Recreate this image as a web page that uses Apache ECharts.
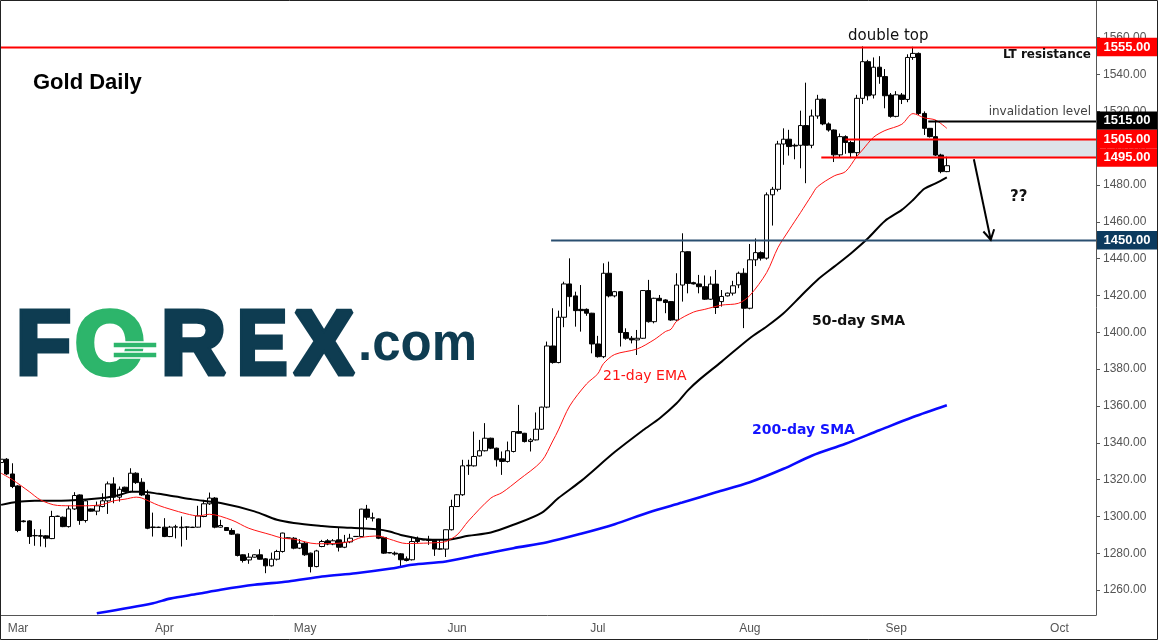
<!DOCTYPE html>
<html>
<head>
<meta charset="utf-8">
<title>Gold Daily</title>
<script src="https://cdn.jsdelivr.net/npm/echarts@6/dist/echarts.min.js"></script>
<style>
  html, body { margin: 0; padding: 0; background: #fff; }
  #chart { width: 1158px; height: 640px; }
</style>
</head>
<body>
<div id="chart"></div>
<script>
// daily bars from 26 Feb 2019 to 11 Sep 2019: [open, close, low, high]
const candles = [
  [1329.3,1331.1,1329.0,1331.5],[1331.1,1323.1,1322.5,1331.7],[1323.1,1316.3,1315.4,1328.9],[1316.6,1292.4,1291.5,1317.0],
  [1297.6,1297.2,1296.8,1298.0],[1297.6,1289.1,1285.1,1298.0],[1289.5,1289.7,1284.1,1293.1],[1289.6,1289.3,1283.7,1293.0],
  [1289.5,1288.2,1283.3,1289.8],[1288.0,1300.0,1287.7,1303.1],[1300.0,1300.2,1299.8,1300.5],[1299.6,1294.5,1294.2,1300.0],
  [1294.5,1304.1,1294.0,1305.8],[1304.1,1311.4,1303.6,1313.2],[1311.7,1297.8,1295.5,1312.0],[1297.8,1308.5,1296.7,1309.4],
  [1304.1,1302.9,1302.7,1304.3],[1302.9,1305.8,1300.7,1308.1],[1305.4,1308.5,1305.0,1312.6],[1308.5,1317.7,1301.4,1319.0],
  [1317.7,1310.5,1307.2,1321.3],[1310.5,1314.8,1308.1,1316.3],[1315.9,1313.6,1313.3,1316.2],[1313.6,1323.5,1313.0,1326.2],
  [1323.5,1318.4,1317.7,1324.0],[1318.6,1311.7,1311.2,1320.8],[1311.7,1293.6,1293.1,1314.5],[1294.0,1294.3,1289.1,1302.1],
  [1294.0,1294.2,1293.8,1294.5],[1294.2,1289.1,1288.8,1299.1],[1289.1,1294.2,1288.8,1294.9],[1294.2,1294.4,1288.1,1295.5],
  [1294.2,1293.9,1283.7,1300.0],[1294.3,1294.2,1287.3,1294.6],[1294.2,1294.0,1293.8,1294.4],[1294.2,1300.3,1294.0,1305.8],
  [1300.0,1306.9,1299.6,1309.0],[1306.9,1310.0,1306.3,1313.0],[1310.0,1294.2,1293.6,1310.5],[1294.2,1295.1,1294.0,1298.2],
  [1294.0,1292.4,1292.2,1294.2],[1292.4,1290.4,1290.0,1293.6],[1290.4,1278.8,1278.3,1290.6],[1279.2,1276.1,1275.0,1279.4],
  [1276.4,1277.9,1274.3,1280.1],[1277.9,1279.2,1277.7,1279.4],[1279.2,1276.8,1276.6,1282.2],[1277.0,1273.2,1269.2,1277.4],
  [1273.2,1276.8,1272.8,1280.4],[1276.8,1281.0,1276.1,1281.9],[1281.0,1291.0,1280.4,1291.2],[1288.2,1288.4,1288.0,1288.6],
  [1288.2,1282.8,1282.2,1288.8],[1282.8,1285.5,1282.3,1287.7],[1285.5,1279.2,1278.6,1286.4],[1280.1,1272.8,1269.6,1280.4],
  [1272.8,1281.3,1272.4,1281.9],[1283.7,1286.4,1283.3,1287.3],[1286.8,1285.0,1284.4,1287.7],[1285.0,1286.8,1284.4,1287.7],
  [1287.3,1283.3,1281.0,1294.2],[1283.3,1286.0,1282.8,1290.0],[1286.2,1288.2,1285.5,1290.6],[1289.1,1289.2,1288.9,1289.4],
  [1289.1,1304.0,1288.8,1304.2],[1304.0,1299.6,1298.2,1306.3],[1299.1,1299.3,1297.3,1302.1],[1298.7,1288.2,1287.7,1299.0],
  [1288.6,1280.1,1279.7,1289.0],[1280.4,1280.2,1280.0,1280.6],[1280.1,1279.6,1278.8,1281.0],[1279.7,1276.5,1272.9,1280.1],
  [1277.0,1276.1,1275.6,1278.3],[1276.5,1286.4,1276.1,1289.1],[1287.7,1286.4,1285.5,1289.1],[1287.3,1287.4,1287.1,1287.6],
  [1287.3,1287.0,1284.6,1289.5],[1287.3,1282.3,1278.6,1287.7],[1282.3,1282.4,1281.9,1287.3],[1282.3,1292.8,1278.0,1292.9],
  [1292.8,1305.4,1292.4,1309.1],[1305.4,1311.8,1305.2,1312.2],[1311.8,1327.5,1311.2,1330.8],[1327.5,1327.8,1322.6,1330.8],
  [1327.5,1332.6,1327.1,1346.1],[1332.9,1335.7,1332.6,1341.6],[1335.7,1342.5,1335.3,1350.7],[1342.5,1337.1,1336.6,1342.8],
  [1337.1,1330.8,1327.1,1337.4],[1331.3,1329.9,1322.6,1335.3],[1329.9,1335.7,1329.3,1340.7],[1335.3,1346.1,1334.8,1346.3],
  [1346.1,1345.2,1345.0,1360.6],[1345.2,1340.7,1340.2,1345.4],[1340.7,1341.6,1335.3,1342.5],[1341.6,1347.4,1341.3,1356.5],
  [1347.4,1359.4,1347.0,1359.6],[1359.4,1392.6,1358.8,1395.0],[1392.6,1383.6,1383.0,1413.1],[1383.6,1408.2,1383.2,1411.8],
  [1408.2,1426.3,1402.8,1427.5],[1426.3,1419.4,1414.0,1440.2],[1419.8,1411.8,1403.1,1422.1],[1412.5,1411.8,1400.4,1425.7],
  [1412.5,1410.4,1409.0,1413.0],[1410.4,1393.7,1388.6,1410.6],[1393.7,1386.8,1386.3,1398.1],[1386.8,1432.1,1386.0,1437.5],
  [1432.1,1419.8,1419.0,1438.4],[1419.8,1422.1,1419.0,1422.5],[1422.1,1399.9,1392.3,1422.4],[1399.9,1396.8,1396.0,1402.2],
  [1396.8,1395.9,1394.0,1398.0],[1395.9,1396.8,1387.7,1401.3],[1396.8,1422.7,1396.5,1423.0],[1422.7,1405.8,1405.3,1428.5],
  [1405.8,1418.5,1404.9,1418.8],[1418.5,1417.2,1417.0,1420.3],[1417.6,1416.2,1410.4,1418.0],[1416.7,1406.7,1406.3,1417.0],
  [1406.7,1425.7,1406.3,1432.1],[1425.7,1443.8,1416.7,1453.8],[1443.8,1426.6,1421.2,1444.0],[1427.0,1426.3,1426.0,1427.5],
  [1426.3,1424.8,1421.2,1431.2],[1424.8,1418.0,1417.6,1430.9],[1418.0,1426.2,1417.6,1430.4],[1426.2,1413.5,1410.0,1433.9],
  [1416.7,1419.5,1414.0,1423.0],[1419.8,1421.3,1419.5,1421.6],[1421.3,1425.3,1420.0,1428.0],[1425.8,1432.1,1424.0,1433.0],
  [1432.1,1413.1,1402.3,1434.8],[1413.1,1439.4,1412.5,1448.0],[1439.4,1443.3,1436.0,1451.0],[1443.3,1440.3,1439.0,1444.0],
  [1440.3,1474.7,1439.5,1476.0],[1474.7,1477.7,1458.0,1479.0],[1477.7,1502.3,1476.5,1504.0],[1502.3,1504.9,1491.0,1510.8],
  [1504.9,1500.9,1496.0,1510.0],[1501.6,1501.2,1494.0,1502.5],[1501.6,1512.3,1489.1,1520.4],[1512.3,1501.6,1481.0,1535.6],
  [1501.6,1517.5,1500.0,1521.0],[1517.5,1526.6,1516.0,1529.0],[1526.6,1513.2,1512.5,1527.0],[1513.2,1509.9,1509.0,1514.0],
  [1509.9,1496.4,1492.5,1510.2],[1496.4,1506.3,1495.0,1508.0],[1506.3,1503.1,1497.0,1507.0],[1503.1,1497.6,1494.6,1504.0],
  [1497.6,1527.1,1495.5,1529.0],[1527.1,1547.0,1524.0,1555.3],[1547.0,1528.5,1526.0,1548.0],[1528.9,1544.0,1527.0,1549.3],
  [1544.0,1538.9,1535.0,1550.0],[1538.9,1528.5,1521.7,1543.0],[1528.9,1517.3,1516.6,1530.0],[1517.3,1529.0,1516.8,1531.0],
  [1528.9,1526.5,1524.0,1530.0],[1526.5,1549.3,1525.0,1551.0],[1549.3,1551.5,1548.0,1555.1],[1551.5,1518.9,1518.0,1552.0],
  [1518.9,1510.8,1507.2,1520.0],[1510.8,1506.3,1505.8,1511.0],[1506.3,1496.3,1495.8,1515.3],[1496.3,1487.3,1486.4,1497.0],
  [1487.3,1490.5,1487.0,1495.4]
];

// moving averages: [bar index, price]
const ema21 = [[0,1323.5],[2,1320],[5,1313.5],[7,1309],[10,1306],[13,1305.8],[15,1305.8],[18,1306.5],[20,1308.5],[22,1309.4],
  [24,1310.5],[25,1310],[28,1306],[30,1304],[33,1301.4],[35,1300.3],[37,1301.2],[41,1298],[44,1293.6],[48,1290],[50,1288.2],
  [52,1287.7],[56,1285.2],[60,1285.5],[62,1286.4],[64,1288.6],[67,1289.4],[69,1287.7],[72,1285.3],[75,1285.5],[78,1285.9],
  [79,1286.4],[81,1290],[83,1297.5],[87,1310],[89,1313],[92,1320],[96,1330],[98,1341],[99,1347],[101,1360],[104,1372],
  [106,1377.5],[107,1383],[109,1388],[113,1391],[116,1396],[118,1400.4],[119,1401.7],[120,1406],[123,1411],[125,1412.5],
  [128,1414.8],[131,1415.8],[133,1420],[136,1432.5],[138,1446],[140,1455.7],[142,1465],[144,1474.5],[145,1479],[148,1485],
  [150,1487.3],[152,1495.5],[153,1499],[155,1506],[157,1509.6],[160,1513],[162,1518.8],[164,1516.5],[166,1515.3],[168,1510.8]];
const sma50 = [[0,1306.3],[3,1308],[6,1308.5],[12,1308.7],[18,1310],[21,1311.7],[23,1313.4],[25,1313.5],[28,1312.3],[31,1310.8],
  [34,1309.3],[39,1307.3],[45,1302.8],[49,1298.2],[52,1296.5],[57,1294.9],[60,1294.2],[64,1293.6],[67,1293],[69,1291.8],
  [71,1290],[75,1287.7],[79,1287.3],[83,1289.5],[87,1291.3],[91,1295.5],[96,1302],[99,1310],[103,1319.2],[109,1335],
  [114,1346.8],[117,1353.4],[120,1361.5],[122,1368.5],[124,1374.2],[128,1384.1],[133,1396.8],[136,1403.2],[139,1410.4],
  [142,1419.5],[145,1428.5],[148,1435.7],[151,1443],[154,1451.1],[157,1460.5],[160,1466.5],[162,1471.9],[164,1478],
  [166,1480.9],[168,1484.2]];
const sma200 = [[17,1247.4],[27,1252.9],[30,1255.4],[35,1258],[39,1260.2],[45,1262.9],[51,1264.7],[57,1267.4],[63,1269.2],
  [69,1271.6],[73,1273.8],[79,1275.6],[85,1279.2],[91,1282.8],[97,1286],[103,1290.6],[109,1295.8],[115,1302.2],[121,1307.6],
  [127,1313.1],[133,1318.6],[139,1325.9],[144,1333],[150,1339.5],[156,1346.8],[162,1354],[168,1360.4]];

const priceTicks = [1260,1280,1300,1320,1340,1360,1380,1400,1420,1440,1460,1480,1500,1520,1540,1560];
const levels = [1555, 1515, 1505, 1495, 1450];
const levelStart = [-1, 164.7, 150, 145.7, 97.7];   // bar index where each level line begins
const zone = [1495, 1505];
const monthNames = ['Jan','Feb','Mar','Apr','May','Jun','Jul','Aug','Sep','Oct','Nov','Dec'];

// bars run Sunday to Friday (no bar on Good Friday); the empty future part uses calendar days
const dates = [];
const day = new Date(Date.UTC(2019, 1, 26));
while (dates.length < candles.length) {
  const s = day.toISOString().slice(0, 10);
  if (day.getUTCDay() !== 6 && s !== '2019-04-19') dates.push(s);
  day.setUTCDate(day.getUTCDate() + 1);
}
while (dates.length < 195) {
  dates.push(day.toISOString().slice(0, 10));
  day.setUTCDate(day.getUTCDate() + 1);
}
const monthStart = i => i > 0 && dates[i].slice(5, 7) !== dates[i - 1].slice(5, 7);

const W = 1158, H = 640, RIGHT = 62;
const chart = echarts.init(document.getElementById('chart'));

chart.setOption({
  animation: false,
  backgroundColor: '#fff',
  grid: { left: -1.7, right: RIGHT, top: 0, bottom: 25, outerBoundsMode: 'none' },
  xAxis: {
    type: 'category',
    data: dates,
    boundaryGap: true,
    axisLine: { lineStyle: { color: '#555' } },
    axisTick: { interval: monthStart, alignWithLabel: true, length: 4, lineStyle: { color: '#555' } },
    axisLabel: {
      interval: monthStart,
      formatter: v => monthNames[+v.slice(5, 7) - 1],
      color: '#555', fontFamily: 'Liberation Sans', fontSize: 12, margin: 8
    },
    splitLine: { show: false }
  },
  yAxis: {
    type: 'value',
    position: 'right',
    min: 1246.5,
    max: 1580.5,
    axisLine: { show: true, lineStyle: { color: '#555' } },
    axisTick: { show: true, customValues: priceTicks, length: 4, lineStyle: { color: '#555' } },
    axisLabel: {
      customValues: priceTicks,
      formatter: v => v.toFixed(2),
      color: '#555', fontFamily: 'Liberation Sans', fontSize: 12, margin: 7
    },
    splitLine: { show: false }
  },
  series: [
    {
      type: 'candlestick',
      data: candles,
      barWidth: 5,
      itemStyle: { color: '#fff', color0: '#000', borderColor: '#000', borderColor0: '#000', borderWidth: 1 },
      z: 2
    },
    { type: 'line', data: sma200, symbol: 'none', smooth: 0.3, lineStyle: { color: '#0a0aff', width: 2.6 }, z: 3 },
    { type: 'line', data: sma50, symbol: 'none', smooth: 0.3, lineStyle: { color: '#000', width: 2 }, z: 3 },
    { type: 'line', data: ema21, symbol: 'none', smooth: 0.3, lineStyle: { color: '#ff1414', width: 1 }, z: 3 }
  ]
});

// annotations, placed through the chart's own scales
const toPx = (i, v) => chart.convertToPixel({ gridIndex: 0 }, [i, v]);
const x0 = toPx(0, 1400)[0];
const band = toPx(1, 1400)[0] - x0;
const xAt = i => x0 + i * band;
const py = v => toPx(0, v)[1];
const right = W - RIGHT;

const levelColor = ['#ff0000', '#000000', '#ff0000', '#ff0000', '#2a4f70'];
const boxColor = ['#ff0000', '#000000', '#ff0000', '#ff0000', '#0c3a5e'];

const g = [];
g.push({
  type: 'rect', z: 1, silent: true,
  shape: { x: xAt(152.1), y: py(zone[1]), width: right - xAt(152.1), height: py(zone[0]) - py(zone[1]) },
  style: { fill: '#dde3ea' }
});
levels.forEach((v, k) => {
  const y = Math.round(py(v)) + 0.5;
  g.push({
    type: 'line', z: 100, silent: true,
    shape: { x1: Math.max(0, xAt(levelStart[k])), y1: y, x2: right, y2: y },
    style: { stroke: levelColor[k], lineWidth: 2 }
  });
  g.push({
    type: 'rect', z: 101, silent: true,
    shape: { x: right + 1, y: py(v) - 9.2, width: W - right - 1, height: 18.4 },
    style: { fill: boxColor[k] }
  });
  g.push({
    type: 'text', z: 102, silent: true, x: right + 31, y: py(v),
    style: { text: v.toFixed(2), fill: '#fff', font: 'bold 13px "Liberation Sans"', textAlign: 'center', textVerticalAlign: 'middle' }
  });
});

// arrow towards 1450
const a0 = [xAt(172.8), py(1494)], a1 = [xAt(175.8), py(1450.3)];
const dx = a1[0] - a0[0], dy = a1[1] - a0[1], len = Math.hypot(dx, dy);
const ux = dx / len, uy = dy / len, head = 11;
g.push({ type: 'polyline', z: 100, silent: true, shape: { points: [a0, a1] }, style: { stroke: '#000', lineWidth: 2, fill: null } });
g.push({
  type: 'polyline', z: 100, silent: true,
  shape: { points: [
    [a1[0] - head * (ux * 0.87 - uy * 0.5), a1[1] - head * (uy * 0.87 + ux * 0.5)],
    a1,
    [a1[0] - head * (ux * 0.87 + uy * 0.5), a1[1] - head * (uy * 0.87 - ux * 0.5)]
  ] },
  style: { stroke: '#000', lineWidth: 2, fill: null }
});

function label(text, x, y, font, fill, align) {
  g.push({ type: 'text', z: 103, silent: true, x: x, y: y,
    style: { text: text, fill: fill, font: font, textAlign: align || 'left', textVerticalAlign: 'middle' } });
}
label('Gold Daily', 33, 83, 'bold 22px "Liberation Sans"', '#000');
label('double top', 848, 36, '15px "DejaVu Sans"', '#111');
label('LT resistance', 1091, 55, 'bold 12px "DejaVu Sans"', '#111', 'right');
label('invalidation level', 1091, 112, '12px "DejaVu Sans"', '#404040', 'right');
label('??', 1010, 197, 'bold 15px "DejaVu Sans"', '#111');
label('50-day SMA', 812, 321, 'bold 14px "DejaVu Sans"', '#111');
label('21-day EMA', 603, 376, '14px "DejaVu Sans"', '#ff1414');
label('200-day SMA', 752, 430, 'bold 14px "DejaVu Sans"', '#1414ff');

// FOREX.com logo
const navy = '#0e3c51', green = '#2db56b';
[['F', 16, 1], ['O', 75, 1], ['R', 161, 1], ['E', 237, 0.84], ['X', 294, 1]].forEach(([ch, x, sx]) => {
  const col = ch === 'O' ? green : navy;
  g.push({ type: 'text', z: 90, silent: true, x: x, y: 349, scaleX: sx,
    style: { text: ch, fill: col, stroke: col, lineWidth: 5, font: 'bold 90px "Liberation Sans"', textAlign: 'left', textVerticalAlign: 'middle' } });
});
g.push({ type: 'rect', z: 91, silent: true, shape: { x: 113, y: 342, width: 44, height: 6 }, style: { fill: green, stroke: '#fff', lineWidth: 1.5 } });
g.push({ type: 'rect', z: 91, silent: true, shape: { x: 113, y: 352, width: 44, height: 6 }, style: { fill: green, stroke: '#fff', lineWidth: 1.5 } });
label('.com', 358, 346, 'bold 51px "Liberation Sans"', navy);

// frame
g.push({ type: 'rect', z: 110, silent: true, shape: { x: 0.5, y: 0.5, width: W - 1, height: H - 1 }, style: { fill: null, stroke: '#222', lineWidth: 1 } });

chart.setOption({ graphic: g });
</script>
</body>
</html>
